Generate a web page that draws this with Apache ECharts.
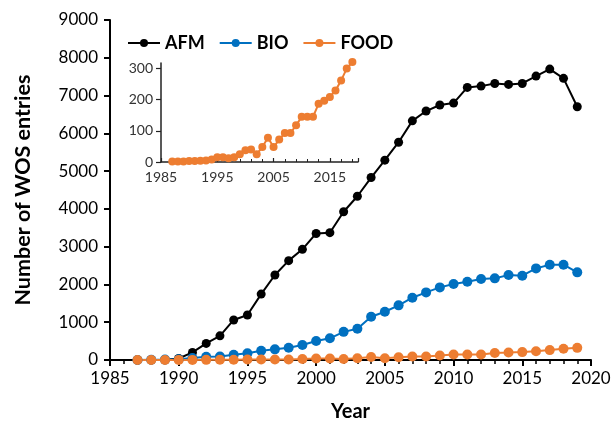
<!DOCTYPE html>
<html><head><meta charset="utf-8">
<script src="https://cdn.jsdelivr.net/npm/echarts@6/dist/echarts.min.js"></script>
<style>html,body{margin:0;padding:0;background:#fff}#c{width:616px;height:427px}</style>
</head><body><div id="c"></div>
<script>
const years = [1987,1988,1989,1990,1991,1992,1993,1994,1995,1996,1997,1998,1999,2000,2001,2002,2003,2004,2005,2006,2007,2008,2009,2010,2011,2012,2013,2014,2015,2016,2017,2018,2019];
const afm  = [0,0,5,40,200,440,640,1060,1190,1745,2250,2630,2930,3350,3370,3925,4335,4830,5290,5765,6330,6590,6750,6800,7215,7250,7320,7295,7320,7515,7700,7455,6705];
const bio  = [0,5,10,20,50,88,90,140,176,247,282,326,397,505,574,745,828,1146,1278,1446,1649,1790,1922,2011,2072,2143,2161,2249,2231,2425,2522,2522,2320];
const food = [2,2,2,3,3,4,5,8,15,15,12,15,25,38,40,25,48,78,48,72,93,93,118,145,145,145,187,197,209,230,262,300,321];
const seriesNames = ['AFM','BIO','FOOD'];
const colors = ['#000000','#0070C0','#ED7D31'];
const mainYTicks = {min:0, max:9000, step:1000};
const mainXTicks = {min:1985, max:2020, step:5};
const insetYTicks = {min:0, max:318, step:100};
const insetXTicks = {min:1985, max:2020, step:10};

const pairs = arr => years.map((y,i)=>[y,arr[i]]);
const font = 'Lato, "Open Sans", sans-serif';
const chart = echarts.init(document.getElementById('c'), null, {renderer:'canvas'});
const mk = (name, arr, color, size, xi, yi) => ({
  name, type:'line', data:pairs(arr), xAxisIndex:xi, yAxisIndex:yi,
  symbol:'circle', symbolSize:size, showSymbol:true, clip:false,
  lineStyle:{color, width:2}, itemStyle:{color}, animation:false,
  emphasis:{disabled:true}
});
chart.setOption({
  animation:false,
  backgroundColor:'#fff',
  legend:{
    data:seriesNames, left:122, top:29, itemWidth:32, itemHeight:10, itemGap:14,
    textStyle:{fontFamily:font, fontWeight:'bold', fontSize:18, color:'#000'}
  },
  grid:[
    {left:110, top:20, right:25, bottom:67},
    {left:161, top:63, width:197, height:99}
  ],
  xAxis:[
    {type:'value', gridIndex:0, min:mainXTicks.min, max:mainXTicks.max, interval:mainXTicks.step,
     name:'Year', nameLocation:'middle', nameGap:42,
     nameTextStyle:{fontFamily:font, fontWeight:'bold', fontSize:20, color:'#000'},
     axisLine:{lineStyle:{color:'#000', width:2}},
     axisTick:{show:true, length:6, lineStyle:{color:'#000', width:2}},
     minorTick:{show:true, splitNumber:5, length:4, lineStyle:{color:'#000', width:1.5}},
     splitLine:{show:false},
     axisLabel:{fontFamily:font, fontSize:17, color:'#000', margin:10, formatter:v=>String(v)}},
    {type:'value', gridIndex:1, min:insetXTicks.min, max:insetXTicks.max, interval:insetXTicks.step,
     axisLine:{lineStyle:{color:'#222', width:1.5}},
     axisTick:{show:true, inside:true, length:4, lineStyle:{color:'#222', width:1.2}},
     minorTick:{show:true, splitNumber:5, length:3, lineStyle:{color:'#222', width:1}},
     splitLine:{show:false},
     axisLabel:{fontFamily:font, fontSize:14, color:'#333', margin:8, showMaxLabel:false, formatter:v=>String(v)}}
  ],
  yAxis:[
    {type:'value', gridIndex:0, min:mainYTicks.min, max:mainYTicks.max, interval:mainYTicks.step,
     name:'Number of WOS entries', nameLocation:'middle', nameGap:76, nameRotate:90,
     nameTextStyle:{fontFamily:font, fontWeight:'bold', fontSize:21.5, color:'#000'},
     axisLine:{show:true, lineStyle:{color:'#000', width:2}},
     axisTick:{show:true, length:6, lineStyle:{color:'#000', width:2}},
     splitLine:{show:false},
     axisLabel:{fontFamily:font, fontSize:17, color:'#000', margin:12, formatter:v=>String(v)}},
    {type:'value', gridIndex:1, min:insetYTicks.min, max:insetYTicks.max, interval:insetYTicks.step,
     axisLine:{show:true, lineStyle:{color:'#222', width:1.5}},
     axisTick:{show:true, length:5, lineStyle:{color:'#222', width:1.2}},
     splitLine:{show:false},
     axisLabel:{fontFamily:font, fontSize:14, color:'#333', margin:8, showMaxLabel:false, formatter:v=>String(v)}}
  ],
  series:[
    mk('AFM', afm, colors[0], 9, 0, 0),
    mk('BIO', bio, colors[1], 10, 0, 0),
    mk('FOOD', food, colors[2], 10, 0, 0),
    mk('FOOD inset', food, colors[2], 8, 1, 1)
  ]
});
</script></body></html>
